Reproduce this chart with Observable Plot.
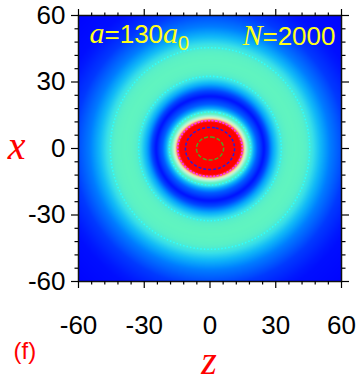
<!DOCTYPE html>
<html><head><meta charset="utf-8">
<script src="https://cdn.jsdelivr.net/npm/d3@7"></script>
<script src="https://cdn.jsdelivr.net/npm/@observablehq/plot@0.6"></script>
<style>body{margin:0;background:#fff} #chart svg{display:block}</style>
</head><body><div id="chart"></div>
<script>
// ---- data ----
const majorTicks = [-60, -30, 0, 30, 60];
const majorTickLabels = ["-60", "-30", "0", "30", "60"];
const minorTicks = [-54, -48, -42, -36, -24, -18, -12, -6, 6, 12, 18, 24, 36, 42, 48, 54];
// radial density profile (along x), colour-scale units
const radius  = [0, 3, 5.2, 7.5, 9.5, 11, 12.6, 14, 15.5, 16.7, 18, 20, 23.5, 26, 29, 32.5, 36, 39, 42, 45.5, 50, 55, 62, 72, 90];
const density = [3.2, 3.0, 2.5, 2.0, 1.5, 1.2, 0.9, 0.66, 0.5, 0.4, 0.28, 0.15, 0.04, 0.12, 0.28, 0.42, 0.49, 0.5, 0.48, 0.42, 0.31, 0.2, 0.1, 0.03, 0];
// z/x elongation of the condensate vs. radius
const aspectRadius = [0, 15, 28];
const aspect = [1.2, 1.17, 1.0];
// colour map
const colorStops = [0, 0.05, 0.12, 0.22, 0.3, 0.38, 0.45, 0.5, 0.6, 0.7, 0.8, 0.9, 1.05];
const colorRange = ["#0000ff", "#0018ff", "#0048ff", "#0088ff", "#10b8f8", "#38e0e8", "#58f0c8", "#60f4c0", "#a8f4e0", "#f0f0b0", "#f8a888", "#f84838", "#ff0000"];
// contour levels: cyan ring, pink, blue, green
const contourLevels = [0.42, 0.9, 1.5, 2.5];
// annotations
const leftNote = [["a", "i"], ["=130", ""], ["a", "i"], ["0", "sub"]];
const rightNote = [["N", "i"], ["=2000", ""]];
const xLabel = "x", zLabel = "z", panelLabel = "(f)";

// ---- drawing ----
const sans = "'Liberation Sans', Arial, Helvetica, sans-serif";
const serif = "'Liberation Serif', 'Times New Roman', serif";
const profile = d3.scaleLinear(radius, density).clamp(true);
const stretch = d3.scaleLinear(aspectRadius, aspect).clamp(true);
const value = (z, x) => {
  const s = stretch(Math.hypot(z, x));
  return profile(Math.hypot(z / s, x));
};
const ext = {x1: -60, x2: 60, y1: -60, y2: 60};
const joined = parts => parts.map(p => p[0]).join("");
const fmt = d => majorTickLabels[majorTicks.indexOf(d)];
const blank = () => "";

const chart = Plot.plot({
  width: 359, height: 382,
  marginLeft: 78, marginRight: 18, marginTop: 15, marginBottom: 101,
  x: {domain: [-60, 60]},
  y: {domain: [-60, 60]},
  color: {type: "linear", domain: colorStops, range: colorRange, interpolate: "rgb", clamp: true},
  style: {fontFamily: sans, background: "white", color: "black", overflow: "visible"},
  marks: [
    Plot.raster({fill: value, ...ext, pixelSize: 1}),
    Plot.contour({value, ...ext, pixelSize: 1, thresholds: [contourLevels[0]], fill: "none", stroke: "#30ffff", strokeWidth: 1.6, strokeDasharray: "1.5,2"}),
    Plot.contour({value, ...ext, pixelSize: 1, thresholds: [contourLevels[1]], fill: "none", stroke: "#ff30ff", strokeWidth: 1.8, strokeDasharray: "2,1.5"}),
    Plot.contour({value, ...ext, pixelSize: 1, thresholds: [contourLevels[2]], fill: "none", stroke: "#2020e0", strokeWidth: 1.5, strokeDasharray: "3,2"}),
    Plot.contour({value, ...ext, pixelSize: 1, thresholds: [contourLevels[3]], fill: "none", stroke: "#50a020", strokeWidth: 1.5, strokeDasharray: "4,2"}),
    Plot.frame({stroke: "#111", strokeWidth: 1.5}),
    Plot.axisX(majorTicks, {anchor: "bottom", tickSize: 7, tickPadding: 27, fontSize: 26, tickFormat: fmt, label: null, strokeWidth: 1.2}),
    Plot.axisX(minorTicks, {anchor: "bottom", tickSize: 3.5, tickFormat: blank, label: null, strokeWidth: 1.2}),
    Plot.axisX(majorTicks, {anchor: "top", tickSize: 7, tickFormat: blank, label: null, strokeWidth: 1.2}),
    Plot.axisX(minorTicks, {anchor: "top", tickSize: 3.5, tickFormat: blank, label: null, strokeWidth: 1.2}),
    Plot.axisY(majorTicks, {anchor: "left", tickSize: 7, tickPadding: 6, fontSize: 26, tickFormat: fmt, label: null, strokeWidth: 1.2}),
    Plot.axisY(minorTicks, {anchor: "left", tickSize: 3.5, tickFormat: blank, label: null, strokeWidth: 1.2}),
    Plot.axisY(majorTicks, {anchor: "right", tickSize: 7, tickFormat: blank, label: null, strokeWidth: 1.2}),
    Plot.axisY(minorTicks, {anchor: "right", tickSize: 3.5, tickFormat: blank, label: null, strokeWidth: 1.2}),
    Plot.text([xLabel], {text: d => d, frameAnchor: "left", dx: -62, dy: 10, lineAnchor: "bottom", textAnchor: "middle", fontFamily: serif, fontStyle: "italic", fontSize: 40, fill: "#ff0000"}),
    Plot.text([zLabel], {text: d => d, frameAnchor: "bottom", dx: -1, dy: 92, lineAnchor: "bottom", textAnchor: "middle", fontFamily: serif, fontStyle: "italic", fontSize: 40, fill: "#ff0000"}),
    Plot.text([panelLabel], {text: d => d, frameAnchor: "bottom-left", dx: -65, dy: 77, lineAnchor: "bottom", textAnchor: "start", fontSize: 24, fill: "#ff0000"}),
    Plot.text([joined(leftNote)], {text: d => d, frameAnchor: "top-left", dx: 11, dy: 27, lineAnchor: "bottom", textAnchor: "start", fontSize: 26, fill: "#ffff1a"}),
    Plot.text([joined(rightNote)], {text: d => d, frameAnchor: "top-right", dx: -6, dy: 29, lineAnchor: "bottom", textAnchor: "end", fontSize: 26, fill: "#ffff1a"})
  ]
});

// rich text (italic symbols, subscript)
d3.select(chart).selectAll("text").each(function () {
  const parts = [leftNote, rightNote].find(p => joined(p) === this.textContent);
  if (!parts) return;
  const t = d3.select(this);
  t.text(null);
  for (const [s, kind] of parts) {
    const ts = t.append("tspan").text(s);
    if (kind === "i") ts.attr("font-family", serif).attr("font-style", "italic").attr("font-size", 30);
    if (kind === "sub") ts.attr("font-size", 20).attr("dy", 7);
  }
});

document.getElementById("chart").appendChild(chart);
</script>
</body></html>
